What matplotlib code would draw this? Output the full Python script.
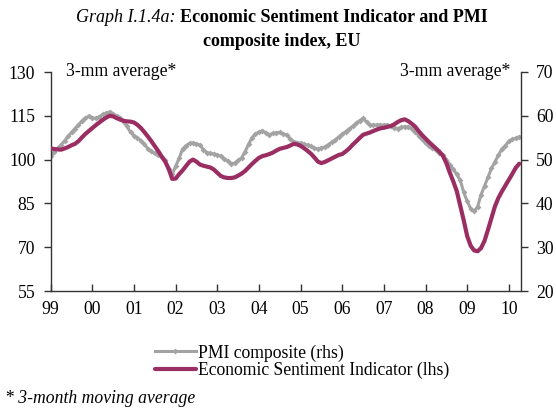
import matplotlib
matplotlib.use("Agg")
import matplotlib.pyplot as plt
import numpy as np

# Monthly data, Jan 1999 .. Apr 2010 (3-month moving averages)
start_year = 1999
esi = [
    103.9, 103.6, 103.5, 103.4, 103.8, 104.3, 104.9, 105.4, 106.3, 107.6, 108.8, 109.8,
    110.8, 111.8, 112.7, 113.6, 114.4, 115.0, 114.8, 114.2, 113.7, 113.3, 113.1, 113.0,
    112.7, 111.9, 110.8, 109.4, 107.9, 106.3, 104.6, 102.9, 101.0, 99.3, 96.8, 93.4,
    93.5, 95.0, 96.3, 97.8, 99.3, 100.0, 99.3, 98.3, 97.9, 97.6, 97.3, 96.6,
    95.5, 94.4, 93.9, 93.7, 93.7, 93.9, 94.5, 95.2, 96.1, 97.3, 98.5, 99.6,
    100.6, 101.2, 101.5, 101.9, 102.4, 103.1, 103.7, 104.0, 104.3, 104.8, 105.4, 105.2,
    104.7, 103.9, 103.0, 102.0, 100.7, 99.3, 98.8, 99.2, 99.8, 100.4, 101.0, 101.6,
    101.9, 102.8, 103.8, 105.1, 106.2, 107.4, 108.5, 108.9, 109.3, 109.8, 110.3, 110.7,
    110.9, 111.2, 111.5, 112.1, 112.9, 113.5, 113.8, 113.2, 112.3, 111.3, 109.8, 108.4,
    107.2, 106.0, 104.9, 103.8, 102.7, 101.3, 98.8, 95.5, 92.5, 89.2, 84.2, 79.2,
    73.8, 70.5, 68.9, 68.6, 69.7, 72.2, 76.0, 80.0, 84.0, 86.9, 89.1, 91.1,
    93.1, 95.1, 97.2, 98.6,
]
pmi = [
    50.8, 51.7, 52.6, 53.4, 54.3, 55.3, 56.2, 57.1, 57.9, 58.8, 59.5, 59.9,
    59.6, 59.4, 59.8, 60.3, 60.6, 60.9, 60.4, 60.0, 59.6, 58.6, 57.6, 56.2,
    55.5, 55.0, 54.3, 53.5, 52.5, 51.9, 51.4, 51.1, 50.7, 49.8, 47.8, 46.6,
    48.5, 50.3, 52.4, 53.2, 53.7, 53.8, 53.6, 53.3, 52.3, 51.6, 51.4, 51.3,
    51.1, 50.8, 50.2, 49.7, 49.1, 49.2, 49.8, 50.4, 51.8, 53.5, 55.0, 55.9,
    56.3, 56.6, 56.1, 55.7, 56.0, 56.1, 56.2, 55.9, 55.6, 54.8, 54.1, 53.9,
    53.7, 53.5, 53.3, 53.0, 52.6, 52.4, 52.7, 52.9, 53.4, 54.0, 54.5, 55.2,
    55.8, 56.4, 57.0, 57.6, 58.3, 58.9, 59.4, 58.6, 57.9, 57.9, 57.9, 57.9,
    57.9, 57.9, 57.6, 57.3, 57.1, 57.4, 57.5, 57.5, 57.1, 56.4, 55.5, 54.6,
    53.7, 53.1, 52.6, 52.3, 51.6, 51.1, 50.0, 48.8, 47.8, 46.6, 45.3, 42.5,
    40.5, 38.8, 38.2, 39.2, 42.0, 44.0, 46.0, 48.0, 49.5, 51.0, 52.4, 53.2,
    54.2, 54.6, 54.9, 55.2,
]
year_labels = ["99", "00", "01", "02", "03", "04", "05", "06", "07", "08", "09", "10"]
left_ticks = [55, 70, 85, 100, 115, 130]
right_ticks = [20, 30, 40, 50, 60, 70]

t = start_year + np.arange(len(esi)) / 12.0

plt.rcParams['font.family'] = ['Liberation Serif', 'DejaVu Serif']
FS = 12.7
PURPLE = '#9A2E62'
GRAY = '#A3A3A3'
AXC = '#333333'
W, H = 556, 411

fig = plt.figure(figsize=(W/100, H/100), dpi=100)
ax = fig.add_axes([50.7/W, 1-291/H, (520.5-50.7)/W, (291-72)/H])
ax2 = ax.twinx()

l_esi, = ax.plot(t, esi, color=PURPLE, lw=3.0, solid_capstyle='round', zorder=3,
                 label='Economic Sentiment Indicator (lhs)')
l_pmi, = ax2.plot(t, pmi, color=GRAY, lw=2.2, marker='D', markersize=3.0,
                  markeredgewidth=0, zorder=2, label='PMI composite (rhs)')
ax.set_zorder(ax2.get_zorder() + 1)
ax.patch.set_visible(False)

ax.set_xlim(start_year, start_year + 11.28)
ax.set_ylim(55, 130)
ax2.set_ylim(20, 70)
ax.set_yticks(left_ticks)
ax2.set_yticks(right_ticks)
xt = start_year + np.arange(len(year_labels))
ax.set_xticks(xt)
ax.set_xticklabels(year_labels)

for a in (ax, ax2):
    a.spines['top'].set_visible(False)
    for s in ('left', 'right', 'bottom'):
        a.spines[s].set_color(AXC)
        a.spines[s].set_linewidth(1.0)
ax.spines['right'].set_visible(False)
ax2.spines['left'].set_visible(False)
ax2.spines['bottom'].set_visible(False)

ax.tick_params(axis='y', direction='out', length=5, width=1, color=AXC, labelsize=FS, pad=6)
ax.tick_params(axis='x', direction='in', length=5, width=1, color=AXC, labelsize=FS, pad=7)
ax2.tick_params(axis='y', direction='out', length=5, width=1, color=AXC, labelsize=FS, pad=6)

fig.text(66/W, 1 - 72/H, '3-mm average*', fontsize=FS, ha='left', va='center')
fig.text(510/W, 1 - 72/H, '3-mm average*', fontsize=FS, ha='right', va='center')

# Title (two lines, first line mixes italic and bold)
t1a = fig.text(0, 1 - 18/H, 'Graph I.1.4a: ', fontsize=13, style='italic',
               ha='left', va='center')
t1b = fig.text(0, 1 - 18/H, 'Economic Sentiment Indicator and PMI',
               fontsize=13, fontweight='bold', ha='left', va='center')
fig.canvas.draw()
r = fig.canvas.get_renderer()
wa = t1a.get_window_extent(r).width
wb = t1b.get_window_extent(r).width
x0 = 282 - (wa + wb) / 2
t1a.set_x(x0 / W)
t1b.set_x((x0 + wa) / W)
fig.text(282/W, 1 - 42/H, 'composite index, EU', fontsize=13, fontweight='bold',
         ha='center', va='center')

leg = fig.legend(handles=[l_pmi, l_esi], loc='center left',
                 bbox_to_anchor=(155/W, 1 - 361.5/H), frameon=False,
                 fontsize=FS, handlelength=2.3, handletextpad=0.15,
                 labelspacing=0.0, borderpad=0, borderaxespad=0)

fig.text(5/W, 1 - 398/H, '* 3-month moving average', fontsize=FS, style='italic',
         ha='left', va='center')

fig.savefig('out.png', dpi=100)
